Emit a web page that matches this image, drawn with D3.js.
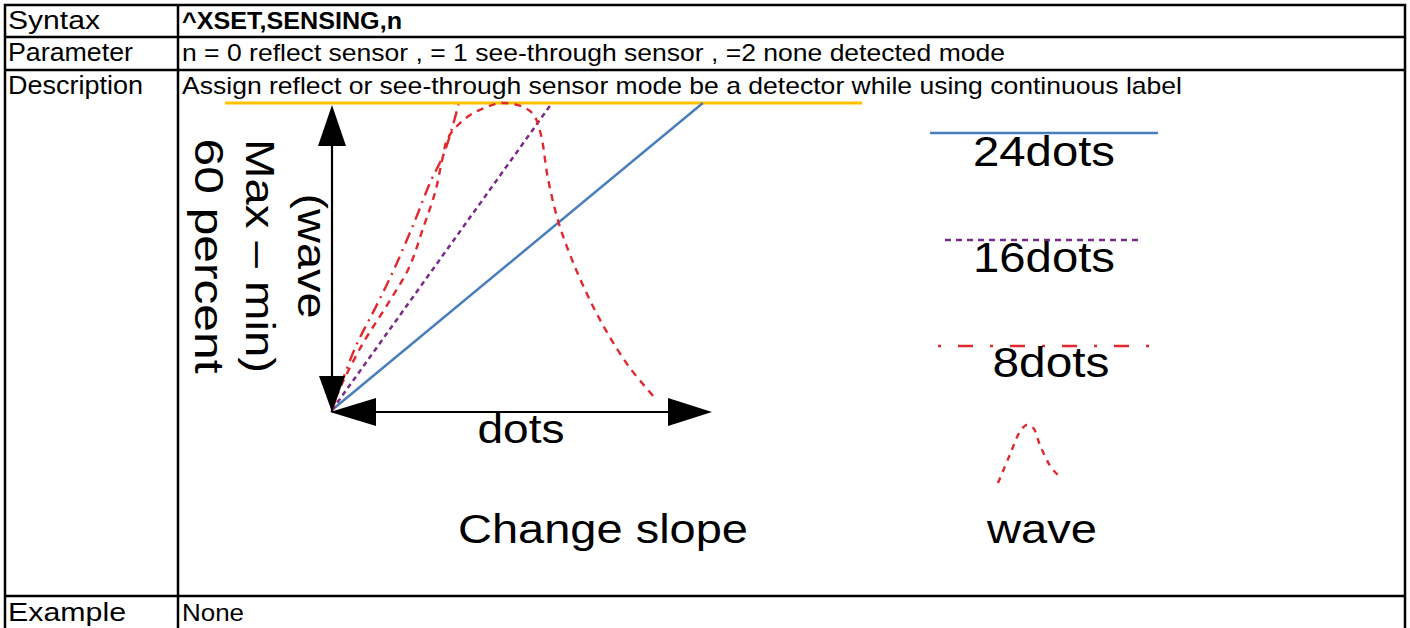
<!DOCTYPE html>
<html>
<head>
<meta charset="utf-8">
<script src="https://cdn.jsdelivr.net/npm/d3@7"></script>
<style>
  html, body { margin: 0; padding: 0; background: #fff; }
  svg { display: block; }
</style>
</head>
<body>
<svg id="chart" width="1410" height="628"></svg>
<script>
// ---------- table content ----------
const rowHeaders = ["Syntax", "Parameter", "Description", "Example"];
const rowTexts = [
  "^XSET,SENSING,n",
  "n = 0 reflect sensor , = 1 see-through sensor , =2 none detected mode",
  "Assign reflect or see-through sensor mode be a detector while using continuous label",
  "None"
];

// ---------- diagram data (x: dots 0-100, y: percent of (wave max - min), 0-100) ----------
const series24 = [[0, 0], [97.6, 100]];
const series16 = [[0, 0], [57.9, 100]];
const series8 = [[0, 0], [6, 20], [11.7, 34], [16.4, 46], [21.6, 61], [25.8, 74], [29.6, 84], [33.3, 99.5]];
const seriesWave = [[0, 0], [1.3, 4.9], [7.9, 21.2], [14.5, 34.2], [20.2, 46.2], [24, 59.3], [27.2, 71.2],
  [29.1, 82.1], [30.5, 88.6], [35.2, 95.1], [39.9, 98.3], [44.5, 100], [50.3, 98.7], [53.1, 96.1],
  [55, 89.6], [56.8, 75.6], [59.6, 61.2], [63.4, 48.2], [68.1, 35.2], [72.8, 24.4], [78.4, 13.7], [85, 3.9]];
const thresholdLevel = [100];
const legendLabels = ["24dots", "16dots", "8dots", "wave"];
const waveIcon = [[0, 0], [3.5, 48], [6.5, 88], [8.5, 100], [10.5, 95], [12.5, 66], [15.5, 30], [18.5, 10]];
const axisLabelLines = ["(wave", "Max \u2013 min)", "60 percent"];
const xAxisLabel = "dots";
const caption1 = "Change slope";

const svg = d3.select("#chart");
const FONT = "'Liberation Sans', Arial, sans-serif";

// ---------- table ----------
const table = svg.append("g");
table.append("rect").attr("x", 5).attr("y", 5).attr("width", 1400).attr("height", 640)
  .attr("fill", "none").attr("stroke", "#000").attr("stroke-width", 2.5);
[37, 70, 596].forEach(yy => table.append("line").attr("x1", 5).attr("x2", 1405).attr("y1", yy).attr("y2", yy)
  .attr("stroke", "#000").attr("stroke-width", 2.5));
table.append("line").attr("x1", 178).attr("x2", 178).attr("y1", 5).attr("y2", 640)
  .attr("stroke", "#000").attr("stroke-width", 2.5);

const baselines = [29, 61, 94, 621];
const headLens = [92, 125, 135, 118];
rowHeaders.forEach((t, i) => {
  table.append("text").attr("x", 8).attr("y", baselines[i]).text(t)
    .attr("font-family", FONT).attr("font-size", 25).attr("fill", "#000")
    .attr("textLength", headLens[i]).attr("lengthAdjust", "spacingAndGlyphs");
});
const bodyLens = [220, 823, 1000, 62];
rowTexts.forEach((t, i) => {
  table.append("text").attr("x", 182).attr("y", baselines[i]).text(t)
    .attr("font-family", FONT).attr("font-size", 24).attr("fill", "#000")
    .attr("font-weight", i === 0 ? "bold" : "normal")
    .attr("textLength", bodyLens[i]).attr("lengthAdjust", "spacingAndGlyphs");
});

// ---------- diagram ----------
const x = d3.scaleLinear().domain([0, 100]).range([332, 712]);
const y = d3.scaleLinear().domain([0, 100]).range([410, 103]);
const g = svg.append("g");

g.selectAll(".thr").data(thresholdLevel).enter().append("line")
  .attr("x1", 225).attr("x2", 862).attr("y1", d => y(d)).attr("y2", d => y(d))
  .attr("stroke", "#ffc000").attr("stroke-width", 3);

const line = d3.line().x(d => x(d[0])).y(d => y(d[1]));
const lineC = d3.line().x(d => x(d[0])).y(d => y(d[1])).curve(d3.curveCatmullRom.alpha(0.5));

const BLUE = "#4a7ebb", PURPLE = "#7b2a8a", RED = "#e0282e";

g.append("path").attr("d", line(series24)).attr("fill", "none").attr("stroke", BLUE).attr("stroke-width", 2.5);
g.append("path").attr("d", line(series16)).attr("fill", "none").attr("stroke", PURPLE).attr("stroke-width", 2.5)
  .attr("stroke-dasharray", "5,4");
g.append("path").attr("d", lineC(series8)).attr("fill", "none").attr("stroke", RED).attr("stroke-width", 2.4)
  .attr("stroke-dasharray", "12,6,2,6");
g.append("path").attr("d", lineC(seriesWave)).attr("fill", "none").attr("stroke", RED).attr("stroke-width", 2.4)
  .attr("stroke-dasharray", "7,6");

// axes with arrowheads
const ax = g.append("g");
const ox = x(0), oy = y(0) + 2;
ax.append("line").attr("x1", ox).attr("x2", ox).attr("y1", y(88)).attr("y2", oy)
  .attr("stroke", "#000").attr("stroke-width", 2.2);
ax.append("line").attr("x1", ox).attr("x2", x(93)).attr("y1", oy).attr("y2", oy)
  .attr("stroke", "#000").attr("stroke-width", 2.2);
ax.append("path").attr("d", `M${ox},${y(100) + 2} L${ox - 14},${y(86)} L${ox + 14},${y(86)} Z`).attr("fill", "#000");
ax.append("path").attr("d", `M${ox},${oy} L${ox - 13},${oy - 36} L${ox + 13},${oy - 36} Z`).attr("fill", "#000");
ax.append("path").attr("d", `M${ox - 2},${oy} L${ox + 44},${oy - 14} L${ox + 44},${oy + 14} Z`).attr("fill", "#000");
ax.append("path").attr("d", `M${x(100)},${oy} L${x(100) - 44},${oy - 14} L${x(100) - 44},${oy + 14} Z`).attr("fill", "#000");

g.append("text").attr("x", 521).attr("y", 443).attr("text-anchor", "middle").text(xAxisLabel)
  .attr("font-family", FONT).attr("font-size", 41).attr("textLength", 87).attr("lengthAdjust", "spacingAndGlyphs");
g.append("text").attr("x", 603).attr("y", 543).attr("text-anchor", "middle").text(caption1)
  .attr("font-family", FONT).attr("font-size", 41).attr("textLength", 290).attr("lengthAdjust", "spacingAndGlyphs");

const rotBase = [298, 246, 195];
const rotLens = [125, 234, 235];
axisLabelLines.forEach((t, i) => {
  g.append("text").attr("transform", `translate(${rotBase[i]},256) rotate(90)`)
    .attr("text-anchor", "middle").text(t)
    .attr("font-family", FONT).attr("font-size", 41)
    .attr("textLength", rotLens[i]).attr("lengthAdjust", "spacingAndGlyphs");
});

// legend
const leg = svg.append("g");
const legLines = [
  { y: 133, x1: 930, x2: 1158, color: BLUE, dash: null },
  { y: 240, x1: 945, x2: 1143, color: PURPLE, dash: "6,5" },
  { y: 346, x1: 938, x2: 1150, color: RED, dash: "3,17,15,17" }
];
legLines.forEach(l => {
  const ln = leg.append("line").attr("x1", l.x1).attr("x2", l.x2).attr("y1", l.y).attr("y2", l.y)
    .attr("stroke", l.color).attr("stroke-width", 2.5);
  if (l.dash) ln.attr("stroke-dasharray", l.dash);
});
const legTextPos = [{ x: 1044, y: 166, len: 142 }, { x: 1044, y: 272, len: 142 }, { x: 1051, y: 377, len: 117 }, { x: 1042, y: 543, len: 110 }];
legendLabels.forEach((t, i) => {
  leg.append("text").attr("x", legTextPos[i].x).attr("y", legTextPos[i].y).attr("text-anchor", "middle").text(t)
    .attr("font-family", FONT).attr("font-size", i === 3 ? 41 : 43)
    .attr("textLength", legTextPos[i].len).attr("lengthAdjust", "spacingAndGlyphs");
});
const wx = d3.scaleLinear().domain([0, 18.5]).range([998, 1060]);
const wy = d3.scaleLinear().domain([0, 100]).range([483, 425]);
leg.append("path").attr("d", d3.line().x(d => wx(d[0])).y(d => wy(d[1])).curve(d3.curveCatmullRom)(waveIcon))
  .attr("fill", "none").attr("stroke", RED).attr("stroke-width", 2.4).attr("stroke-dasharray", "6,6");
</script>
</body>
</html>
